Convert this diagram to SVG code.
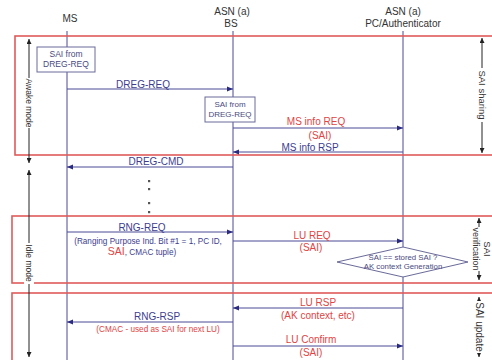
<svg xmlns="http://www.w3.org/2000/svg" width="492" height="360" viewBox="0 0 492 360">
<style>
text{font-family:"Liberation Sans",Arial,sans-serif}
.hdr{font-size:10px;fill:#333;text-anchor:middle}
.life{stroke:#4a4a98;stroke-width:1;fill:none}
.frame{fill:none;stroke:#e05a5a;stroke-width:1.6}
.msg{stroke:#4a4a98;stroke-width:1;fill:none;marker-end:url(#ah)}
.lb{font-size:10px;fill:#3d3d8f;text-anchor:middle}
.lr{font-size:10px;fill:#e04444;text-anchor:middle}
.sm{font-size:8.5px;fill:#4a4a80;text-anchor:middle}
.note{fill:#fff;stroke:#6a6a9a;stroke-width:1}
.side{stroke:#222;stroke-width:1;fill:none;marker-end:url(#bh);marker-start:url(#bh)}
.sl{font-size:9.5px;fill:#333;text-anchor:middle}
</style>
<defs>
<marker id="ah" viewBox="0 0 6 6" refX="6" refY="3" markerWidth="6" markerHeight="6" markerUnits="userSpaceOnUse" orient="auto-start-reverse"><path d="M0,0.5 L6,3 L0,5.5 z" fill="#2a2a80"/></marker>
<marker id="bh" viewBox="0 0 6 6" refX="6" refY="3" markerWidth="5" markerHeight="5" markerUnits="userSpaceOnUse" orient="auto-start-reverse"><path d="M0,0 L6,3 L0,6 z" fill="#222"/></marker>
</defs>
<rect width="492" height="360" fill="#fff"/>

<g id="MS">
<text class="hdr" x="70" y="22">MS</text>
<line class="life" x1="67" y1="31" x2="67" y2="360"/>
</g>
<g id="BS">
<text class="hdr" x="232" y="15">ASN (a)</text>
<text class="hdr" x="231" y="27">BS</text>
<line class="life" x1="233" y1="31" x2="233" y2="360"/>
</g>
<g id="PC">
<text class="hdr" x="403" y="15">ASN (a)</text>
<text class="hdr" x="403" y="27">PC/Authenticator</text>
<line class="life" x1="403" y1="31" x2="403" y2="360"/>
</g>

<g id="frames">
<rect class="frame" x="15" y="36" width="600" height="119"/>
<rect class="frame" x="12" y="216" width="600" height="67"/>
<rect class="frame" x="12" y="293" width="600" height="80"/>
</g>

<g id="sai_ms">
<rect class="note" x="37" y="47" width="58" height="25"/>
<text class="sm" x="66" y="57">SAI from</text>
<text class="sm" x="66" y="67">DREG-REQ</text>
</g>
<g id="sai_bs">
<rect class="note" x="205" y="97" width="50" height="25"/>
<text class="sm" x="230" y="107" style="font-size:8px">SAI from</text>
<text class="sm" x="230" y="117" style="font-size:8px">DREG-REQ</text>
</g>
<g id="check">
<polygon points="337,262 403,247 468,262 403,277" fill="#fff" stroke="#6a6a9a" stroke-width="1"/>
<text class="sm" x="403" y="260" style="font-size:7.8px">SAI == stored SAI ?</text>
<text class="sm" x="403" y="269" style="font-size:7.8px">AK context Generation</text>
</g>

<g id="connectors">
<line class="msg" x1="67" y1="89" x2="233" y2="89"/>
<line class="msg" x1="233" y1="128" x2="403" y2="128"/>
<line class="msg" x1="403" y1="152" x2="233" y2="152"/>
<line class="msg" x1="233" y1="167" x2="67" y2="167"/>
<line class="msg" x1="67" y1="232" x2="233" y2="232"/>
<line class="msg" x1="233" y1="241" x2="403" y2="241"/>
<line class="msg" x1="403" y1="308" x2="233" y2="308"/>
<line class="msg" x1="233" y1="322" x2="67" y2="322"/>
<line class="msg" x1="233" y1="346" x2="403" y2="346"/>
</g>

<g id="labels">
<text class="lb" x="143" y="88">DREG-REQ</text>
<text class="lr" x="316" y="125">MS info REQ</text>
<text class="lr" x="320" y="139">(SAI)</text>
<text class="lb" x="310" y="151">MS info RSP</text>
<text class="lb" x="156" y="165">DREG-CMD</text>
<text class="lb" x="142" y="231">RNG-REQ</text>
<text class="lb" x="148" y="244" style="font-size:8.2px">(Ranging Purpose Ind. Bit #1 = 1, PC ID,</text>
<text class="lb" x="142" y="255" style="font-size:8.2px"><tspan fill="#e04444" style="font-size:10.5px">SAI</tspan>, CMAC tuple)</text>
<text class="lr" x="312" y="239">LU REQ</text>
<text class="lr" x="311" y="251">(SAI)</text>
<text class="lr" x="318" y="306">LU RSP</text>
<text class="lr" x="318" y="319">(AK context, etc)</text>
<text class="lb" x="157" y="320">RNG-RSP</text>
<text class="lr" x="158" y="332" style="font-size:8.2px">(CMAC - used as SAI for next LU)</text>
<text class="lr" x="311" y="343">LU Confirm</text>
<text class="lr" x="311" y="356">(SAI)</text>
</g>

<g id="dots" fill="#555">
<rect x="148" y="180" width="2.2" height="2.2"/>
<rect x="148" y="188" width="2.2" height="2.2"/>
<rect x="148" y="202" width="2.2" height="2.2"/>
<rect x="148" y="211" width="2.2" height="2.2"/>
</g>

<g id="side_left">
<line class="side" x1="29" y1="39" x2="29" y2="163"/>
<rect x="24" y="78" width="10" height="50" fill="#fff"/>
<text class="sl" transform="translate(29,103) rotate(90)" y="3" style="font-size:8.5px">Awake mode</text>
<line class="side" x1="29" y1="170" x2="29" y2="357"/>
<rect x="24" y="243" width="10" height="41" fill="#fff"/>
<text class="sl" transform="translate(29,263) rotate(90)" y="3" style="font-size:8.5px">Idle mode</text>
</g>

<g id="side_right">
<line class="side" x1="482" y1="38" x2="482" y2="153"/>
<rect x="477" y="68" width="10" height="54" fill="#fff"/>
<text class="sl" transform="translate(482,95) rotate(90)" y="3.4">SAI sharing</text>
<line stroke="#222" x1="479" y1="218" x2="479" y2="227" marker-start="url(#bh)"/>
<line stroke="#222" x1="479" y1="271" x2="479" y2="280" marker-end="url(#bh)"/>
<text class="sl" transform="translate(484,249) rotate(90)" style="font-size:9.5px">SAI</text>
<text class="sl" transform="translate(484,249) rotate(90)" y="11" style="font-size:9px">verification</text>
<line stroke="#222" x1="479" y1="297" x2="479" y2="357" marker-start="url(#bh)" marker-end="url(#bh)"/>
<rect x="474" y="301" width="10" height="52" fill="#fff"/>
<text class="sl" transform="translate(479,327) rotate(90)" y="3.4" style="font-size:10px">SAI update</text>
</g>
</svg>
